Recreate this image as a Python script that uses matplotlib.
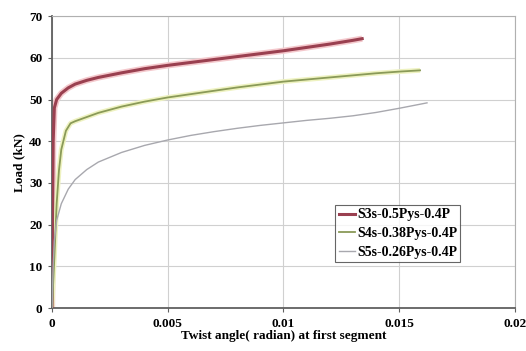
import matplotlib
matplotlib.use("Agg")
import matplotlib.pyplot as plt

# Data
s3_x = [0, 0.00002, 0.00005, 0.0001, 0.0002, 0.0004, 0.0007, 0.001, 0.0015, 0.002, 0.003, 0.004, 0.005, 0.006, 0.007, 0.008, 0.009, 0.01, 0.011, 0.012, 0.013, 0.0134]
s3_y = [0, 20, 40, 48, 50, 51.5, 52.8, 53.7, 54.6, 55.3, 56.4, 57.4, 58.2, 58.9, 59.6, 60.3, 61.0, 61.7, 62.5, 63.3, 64.2, 64.6]
s4_x = [0, 0.0001, 0.0002, 0.0003, 0.0004, 0.0006, 0.0008, 0.001, 0.0015, 0.002, 0.003, 0.004, 0.005, 0.006, 0.007, 0.008, 0.009, 0.01, 0.011, 0.012, 0.013, 0.014, 0.015, 0.0159]
s4_y = [0, 12, 25, 33, 38, 42.5, 44.3, 44.8, 45.8, 46.8, 48.3, 49.5, 50.5, 51.3, 52.1, 52.9, 53.6, 54.3, 54.8, 55.3, 55.8, 56.3, 56.7, 57.0]
s5_x = [0, 0.00005, 0.0001, 0.0002, 0.0004, 0.0007, 0.001, 0.0015, 0.002, 0.003, 0.004, 0.005, 0.006, 0.007, 0.008, 0.009, 0.01, 0.011, 0.012, 0.013, 0.014, 0.015, 0.0162]
s5_y = [0, 10, 16, 21, 25, 28.5, 30.8, 33.2, 35.0, 37.3, 39.0, 40.3, 41.4, 42.3, 43.1, 43.8, 44.4, 45.0, 45.5, 46.1, 46.9, 47.9, 49.2]
labels = ["S3s-0.5Pys-0.4P", "S4s-0.38Pys-0.4P", "S5s-0.26Pys-0.4P"]
x_ticks = [0, 0.005, 0.01, 0.015, 0.02]
x_tick_labels = ["0", "0.005", "0.01", "0.015", "0.02"]
y_ticks = [0, 10, 20, 30, 40, 50, 60, 70]

plt.rcParams['font.family'] = ['Liberation Serif', 'DejaVu Serif']
fig = plt.figure(figsize=(5.26, 3.51), dpi=100)
ax = fig.add_axes([0.0989, 0.1225, 0.8801, 0.8315])

# glow underlays
ax.plot(s3_x, s3_y, color='#f4c8cc', lw=4.5, solid_capstyle='butt', zorder=2)
ax.plot(s4_x, s4_y, color='#eef2c0', lw=3.5, solid_capstyle='butt', zorder=2)
l3, = ax.plot(s3_x, s3_y, color='#9a4050', lw=2.2, zorder=3, label=labels[0])
l4, = ax.plot(s4_x, s4_y, color='#8a9a58', lw=1.3, zorder=3, label=labels[1])
l5, = ax.plot(s5_x, s5_y, color='#a8a8ae', lw=1.0, zorder=3, label=labels[2])

ax.set_xlim(0, 0.02)
ax.set_ylim(0, 70)
ax.set_xticks(x_ticks)
ax.set_xticklabels(x_tick_labels)
ax.set_yticks(y_ticks)
ax.grid(True, color='#d0d0d0', lw=0.8)
ax.set_axisbelow(True)
for s in ['top', 'right']:
    ax.spines[s].set_color('#b0b0b0')
for s in ['left', 'bottom']:
    ax.spines[s].set_color('#606060')
    ax.spines[s].set_linewidth(1.3)
ax.tick_params(axis='both', labelsize=9.5, length=3, color='#606060', pad=4)
for t in ax.get_xticklabels() + ax.get_yticklabels():
    t.set_fontweight('bold')

ax.set_xlabel("Twist angle( radian) at first segment", fontsize=9.5, fontweight='bold', labelpad=0)
ax.set_ylabel("Load (kN)", fontsize=9.5, fontweight='bold', labelpad=3)

leg = ax.legend(handles=[l3, l4, l5], loc='upper left', bbox_to_anchor=(0.612, 0.353),
                fontsize=10, frameon=True, fancybox=False, edgecolor='#404040',
                handlelength=1.2, handletextpad=0.1, borderpad=0.25, labelspacing=0.4,
                borderaxespad=0)
leg.get_frame().set_linewidth(0.8)
for t in leg.get_texts():
    t.set_fontweight('bold')

fig.savefig("out.png", dpi=100)
